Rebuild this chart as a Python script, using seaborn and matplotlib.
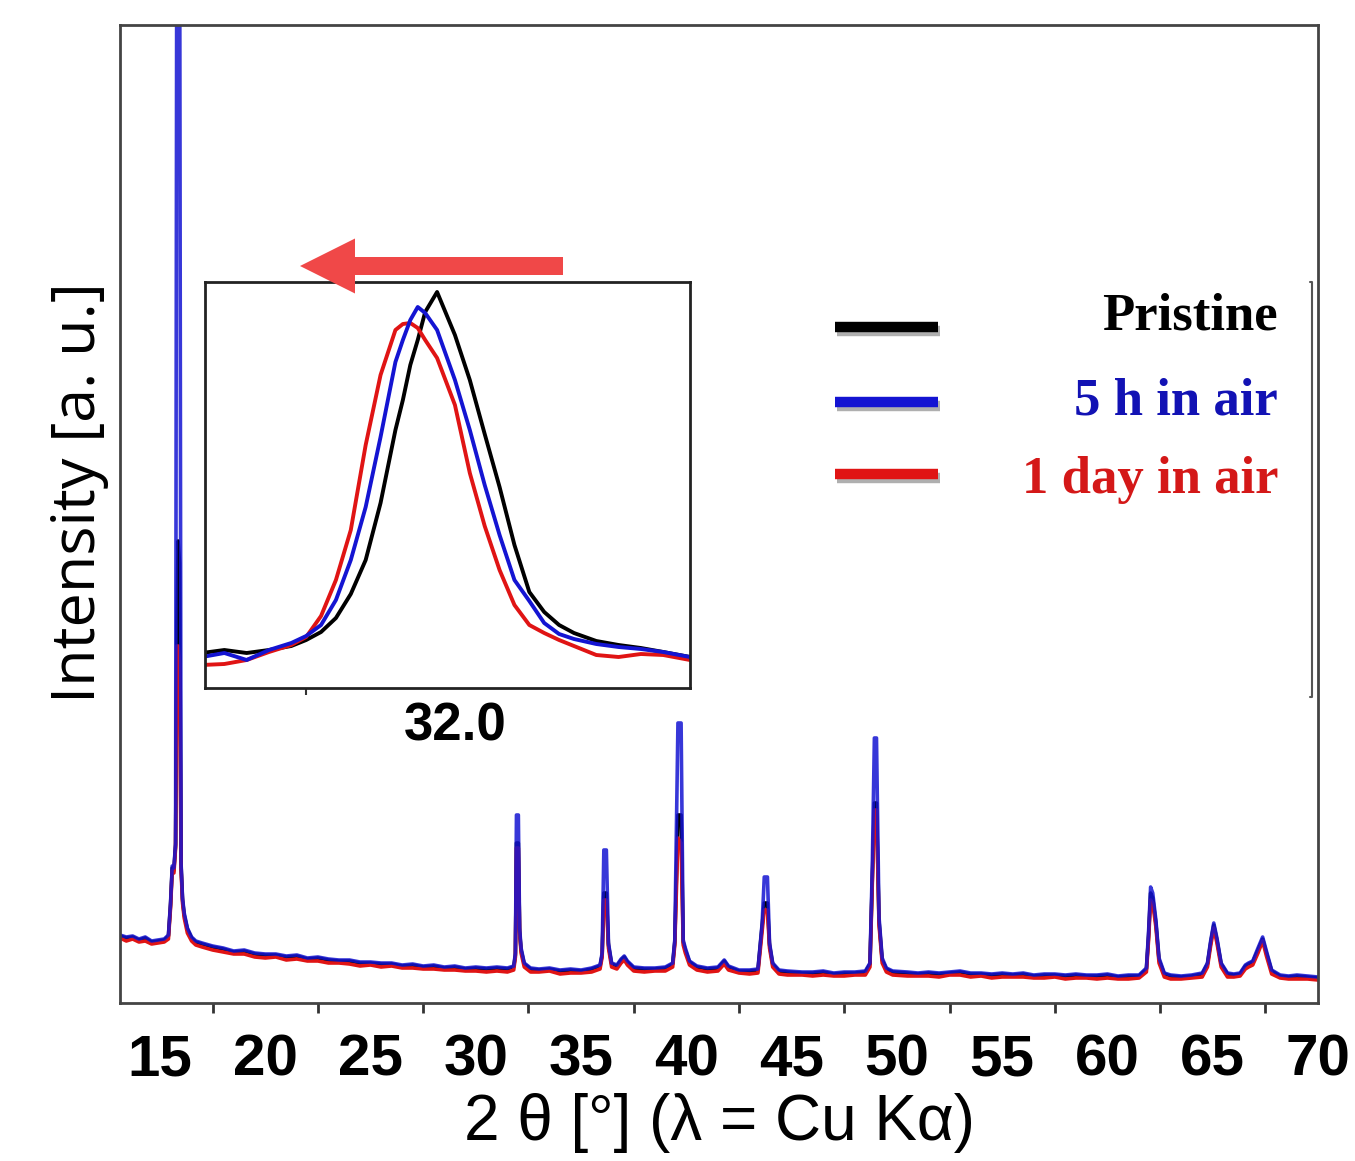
import matplotlib
matplotlib.use("Agg")
import matplotlib.pyplot as plt
import seaborn as sns
import numpy as np
import pandas as pd
from matplotlib.patches import FancyArrow
from matplotlib.lines import Line2D
import matplotlib.patheffects as pe

# ---------------- data ----------------
two_theta = [13.1, 13.4, 13.7, 14.0, 14.3, 14.6, 14.9, 15.2,
             15.4, 15.5, 15.58, 15.66, 15.74, 15.8, 15.86, 15.93, 16.0, 16.07, 16.15, 16.3, 16.5,
             16.7, 17.0, 17.5, 18.0, 18.5, 19.0, 19.5, 20.0, 20.5, 21.0, 21.5, 22.0, 22.5, 23.0, 23.5,
             24.0, 24.5, 25.0, 25.5, 26.0, 26.5, 27.0, 27.5, 28.0, 28.5, 29.0, 29.5, 30.0, 30.5, 31.0, 31.5,
             31.8, 31.88, 31.93, 32.02, 32.08, 32.15, 32.3,
             32.6, 33.0, 33.5, 34.0, 34.5, 35.0, 35.5, 35.9,
             36.0, 36.08, 36.2, 36.3, 36.45, 36.7, 36.9, 37.05, 37.2, 37.5, 38.0, 38.5, 39.0, 39.35,
             39.45, 39.6, 39.75, 39.85, 39.95, 40.15, 40.5, 41.0, 41.5, 41.8, 42.0, 42.5, 43.0, 43.4,
             43.6, 43.7, 43.85, 43.95, 44.1, 44.4, 44.8, 45.5, 46.0, 46.5, 47.0, 47.5, 48.0, 48.5,
             48.72, 48.83, 48.93, 49.03, 49.15, 49.3, 49.5, 49.8,
             50.5, 51.0, 51.5, 52.0, 52.5, 53.0, 53.5, 54.0, 54.5, 55.0, 55.5, 56.0, 56.5, 57.0, 57.5,
             58.0, 58.5, 59.0, 59.5, 60.0, 60.5, 61.0, 61.5,
             61.85, 61.95, 62.05, 62.15, 62.3, 62.45, 62.7, 63.0, 63.5, 64.0, 64.5,
             64.75, 64.9, 65.05, 65.2, 65.4, 65.7, 66.0, 66.3, 66.55, 66.7, 66.9, 67.15, 67.37, 67.55, 67.8,
             68.2, 68.6, 69.0, 69.5, 70.0]

pristine = [67, 65, 66, 63, 65, 61, 62, 63,
            67, 98, 135, 133, 158, 380, 462, 440, 138, 103, 88, 74, 65,
            61, 59, 56, 54, 51, 52, 49, 48, 48, 46, 47, 44, 45, 43, 42,
            42, 40, 40, 39, 39, 37, 38, 36, 37, 35, 36, 34, 35, 34, 35, 34,
            36, 48, 160, 160, 72, 53, 39,
            34, 33, 34, 32, 33, 32, 34, 37,
            48, 110, 110, 58, 39, 37, 43, 46, 41, 35, 34, 34, 35, 39,
            61, 188, 188, 61, 53, 41, 36, 34, 35, 42, 36, 32, 32, 33,
            78, 100, 100, 58, 39, 32, 31, 30, 30, 31, 29, 30, 30, 31,
            39, 125, 200, 200, 82, 43, 34, 31,
            30, 29, 30, 29, 30, 31, 29, 29, 28, 29, 28, 29, 27, 28, 28,
            27, 28, 27, 27, 28, 26, 27, 27,
            34, 66, 110, 105, 80, 43, 29, 27, 26, 27, 29,
            39, 60, 78, 63, 39, 29, 28, 29, 37, 39, 41, 53, 64, 50, 32,
            27, 26, 27, 26, 25]

air_5h = [68, 66, 67, 64, 66, 62, 63, 64,
          68, 100, 137, 135, 160, 1150, 1150, 1150, 140, 105, 90, 75, 66,
          62, 60, 57, 55, 52, 53, 50, 49, 49, 47, 48, 45, 46, 44, 43,
          43, 41, 41, 40, 40, 38, 39, 37, 38, 36, 37, 35, 36, 35, 36, 35,
          37, 50, 188, 188, 75, 55, 40,
          35, 34, 35, 33, 34, 33, 35, 38,
          50, 153, 153, 60, 40, 38, 44, 47, 42, 36, 35, 35, 36, 40,
          63, 280, 280, 63, 55, 42, 37, 35, 36, 43, 37, 33, 33, 34,
          80, 126, 126, 60, 40, 33, 32, 31, 31, 32, 30, 31, 31, 32,
          40, 136, 265, 265, 86, 45, 35, 32,
          31, 30, 31, 30, 31, 32, 30, 30, 29, 30, 29, 30, 28, 29, 29,
          28, 29, 28, 28, 29, 27, 28, 28,
          35, 70, 116, 110, 83, 45, 30, 28, 27, 28, 30,
          40, 62, 80, 65, 40, 30, 29, 30, 38, 40, 42, 55, 66, 52, 33,
          28, 27, 28, 27, 26]

air_1day = [65, 62, 64, 61, 62, 59, 60, 61,
            64, 95, 132, 130, 155, 357, 357, 340, 133, 100, 85, 70, 62,
            58, 56, 53, 51, 49, 49, 46, 45, 46, 43, 44, 42, 42, 40, 40,
            39, 37, 38, 36, 37, 35, 35, 34, 34, 33, 33, 32, 32, 31, 32, 31,
            33, 46, 155, 155, 70, 50, 36,
            31, 31, 32, 29, 30, 30, 31, 34,
            46, 103, 103, 55, 36, 34, 40, 43, 38, 32, 31, 32, 32, 36,
            58, 165, 160, 58, 50, 38, 33, 31, 32, 39, 33, 30, 29, 30,
            72, 93, 93, 55, 36, 29, 28, 28, 27, 28, 27, 27, 28, 28,
            36, 120, 193, 193, 78, 40, 31, 28,
            27, 27, 27, 26, 28, 28, 26, 27, 25, 26, 26, 26, 25, 25, 26,
            24, 25, 25, 24, 25, 24, 24, 25,
            31, 62, 103, 100, 76, 40, 26, 24, 24, 25, 26,
            36, 57, 75, 60, 36, 26, 26, 27, 34, 36, 38, 50, 62, 47, 29,
            25, 24, 24, 24, 23]

# inset (zoom on the ~32 deg reflection)
inset_theta = [31.83, 31.845, 31.86, 31.875, 31.89, 31.90, 31.91, 31.92, 31.93, 31.94,
               31.95, 31.96, 31.965, 31.97, 31.975, 31.98, 31.988, 32.00, 32.01, 32.02,
               32.03, 32.04, 32.05, 32.06, 32.07, 32.08, 32.095, 32.11, 32.125, 32.14, 32.158]
inset_pristine = [35, 38, 35, 38, 42, 48, 56, 70, 94, 128,
                  185, 258, 288, 323, 348, 376, 396, 353, 308, 254,
                  201, 143, 96, 76, 63, 55, 47, 43, 40, 36, 31]
inset_5h = [31, 35, 28, 38, 45, 52, 63, 88, 128, 181,
            251, 326, 348, 368, 381, 375, 358, 308, 258, 203,
            153, 108, 87, 65, 54, 49, 44, 41, 39, 36, 31]
inset_1day = [23, 24, 28, 36, 43, 51, 72, 108, 158, 243,
              313, 358, 364, 365, 360, 348, 330, 283, 215, 162,
              118, 83, 63, 55, 48, 42, 33, 31, 34, 33, 28]

series_names = ["Pristine", "5 h in air", "1 day in air"]
series_colors = ["#000000", "#1414d2", "#e01414"]
legend_text_colors = ["#000000", "#1212b4", "#d41818"]

x_ticks = [15, 20, 25, 30, 35, 40, 45, 50, 55, 60, 65, 70]

# ---------------- figure ----------------
sns.set_theme(style="white")
plt.rcParams["font.family"] = ["Liberation Sans", "DejaVu Sans"]

W, H = 1355, 1161
fig = plt.figure(figsize=(W / 100, H / 100), dpi=100)

def fx(px):
    return px / W

def fy(py):
    return 1 - py / H

ax = fig.add_axes([fx(120), fy(1003), fx(1318) - fx(120), fy(25) - fy(1003)])

main_df = pd.DataFrame({"two_theta": two_theta, "Pristine": pristine,
                        "5 h in air": air_5h, "1 day in air": air_1day})
# draw order: pristine, 1 day, 5 h (blue on top as in the original)
for idx, alpha in [(0, 1.0), (2, 1.0), (1, 0.85)]:
    sns.lineplot(data=main_df, x="two_theta", y=series_names[idx], ax=ax,
                 color=series_colors[idx], lw=2.6, alpha=alpha,
                 estimator=None, sort=False)

ax.set_xlim(13.1, 70)
ax.set_ylim(0, 978)
ax.set_yticks([])
ax.set_xticks(x_ticks)
ax.set_xticks(np.arange(17.5, 70, 5), minor=True)
ax.tick_params(axis="x", which="major", direction="out", length=12, width=2,
               color="#333333", pad=10, labelsize=42, labelcolor="black")
ax.tick_params(axis="x", which="minor", direction="out", length=7, width=2,
               color="#333333", bottom=True)
for lab in ax.get_xticklabels():
    lab.set_fontweight("bold")
for s in ax.spines.values():
    s.set_color("#444444")
    s.set_linewidth(2)
ax.set_xlabel("2 θ [°] (λ = Cu Kα)", fontsize=46, labelpad=4, color="black")
ax.set_ylabel("Intensity [a. u.]", fontsize=44, color="black",
              family=["Open Sans", "DejaVu Sans"])
ax.yaxis.set_label_coords(-0.009, 0.522)

# thin bracket near the right edge
ax.plot([0.993, 0.995, 0.995, 0.993], [0.737, 0.737, 0.313, 0.313],
        transform=ax.transAxes, color="#555555", lw=1.5)

# legend drawn as lines + right-aligned text
leg_line_y = [327, 402, 474]
leg_text_y = [330, 415, 493]
for name, col, tcol, py, ty in zip(series_names, series_colors, legend_text_colors,
                                   leg_line_y, leg_text_y):
    ln = Line2D([fx(835), fx(938)], [fy(py), fy(py)], transform=fig.transFigure,
                color=col, lw=7.5, solid_capstyle="butt",
                path_effects=[pe.SimpleLineShadow(offset=(1.5, -3), alpha=0.35),
                              pe.Normal()])
    fig.add_artist(ln)
    fig.text(fx(1278), fy(ty), name, ha="right", va="baseline", color=tcol,
             fontsize=38, fontweight="bold", family=["Liberation Serif", "DejaVu Serif"])

# inset
axin = fig.add_axes([fx(205), fy(688), fx(690) - fx(205), fy(282) - fy(688)])
inset_df = pd.DataFrame({"two_theta": inset_theta, "Pristine": inset_pristine,
                         "5 h in air": inset_5h, "1 day in air": inset_1day})
for idx in [0, 2, 1]:
    sns.lineplot(data=inset_df, x="two_theta", y=series_names[idx], ax=axin,
                 color=series_colors[idx], lw=2.8, estimator=None, sort=False)
axin.set_xlim(31.832, 32.158)
axin.set_ylim(0, 406)
axin.set_yticks([])
axin.set_xticks([32.0])
axin.set_xticklabels(["32.0"])
axin.set_xticks([31.9], minor=True)
axin.tick_params(axis="x", which="major", direction="out", length=8, width=1.5,
                 color="#333333", pad=2, labelsize=38, labelcolor="black")
axin.tick_params(axis="x", which="minor", direction="out", length=5, width=1.5,
                 color="#333333", bottom=True)
for lab in axin.get_xticklabels():
    lab.set_fontweight("bold")
axin.set_xlabel("")
axin.set_ylabel("")
for s in axin.spines.values():
    s.set_color("#222222")
    s.set_linewidth(2)

# red arrow indicating the shift
arrow = FancyArrow(fx(563), fy(266), fx(300) - fx(563), 0,
                   width=18 / H, head_width=55 / H, head_length=55 / W,
                   length_includes_head=True, transform=fig.transFigure,
                   color="#f04848", lw=0)
fig.add_artist(arrow)

fig.savefig("out.png", dpi=100)
